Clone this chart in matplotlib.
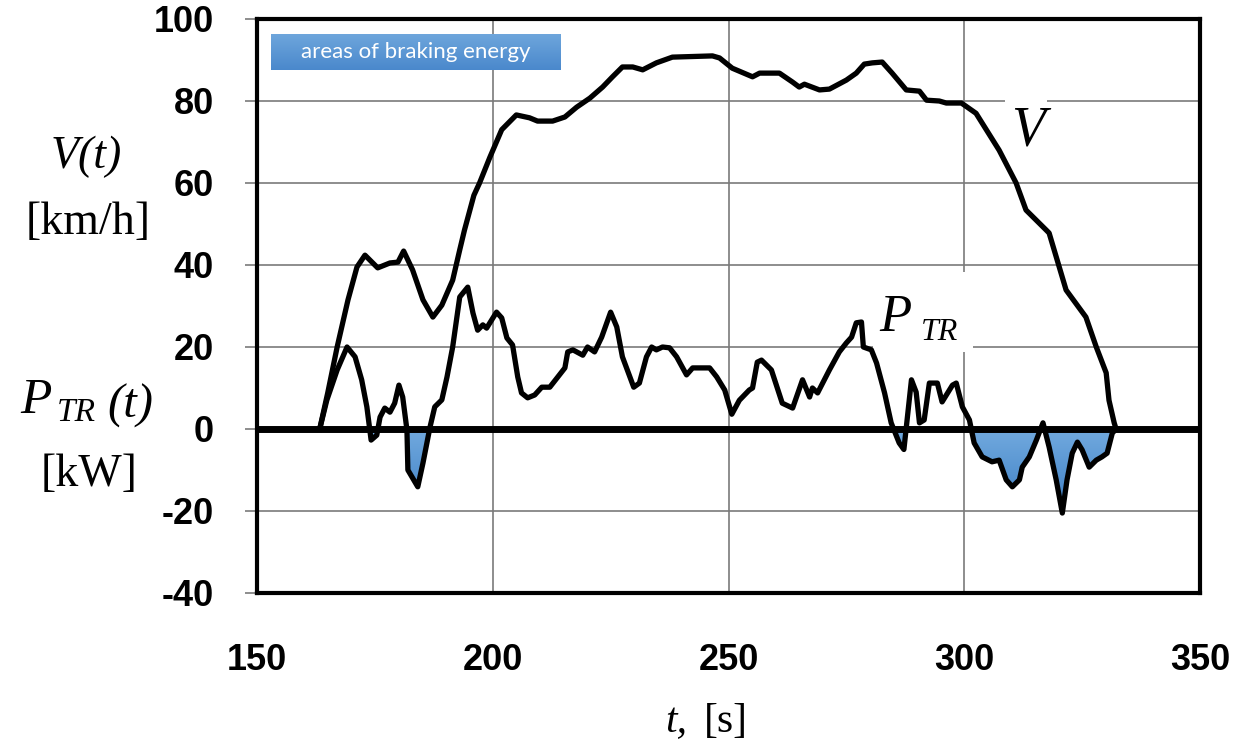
import numpy as np
import matplotlib
matplotlib.use("Agg")
import matplotlib.pyplot as plt
from matplotlib.path import Path
from matplotlib.colors import LinearSegmentedColormap

plt.rcParams['axes.unicode_minus'] = False

# ---- data ----
t_V = [163.3, 165, 167, 169.3, 171.2, 172.9, 175.6, 178.2, 179.9, 181.1, 183, 185.2, 187.3, 189.2,
       191.5, 193, 194, 196, 197.2, 199.4, 201.9, 205, 207.8, 209.5, 212.7, 215.3, 217.8, 220.6,
       223.3, 225.4, 227.5, 229.7, 231.8, 234.7, 238.1, 246.6, 248.1, 250.8, 255.1, 256.6, 260.8,
       263.6, 265, 266.1, 269.3, 271.4, 275, 277.1, 278.8, 280.5, 282.6, 284.7, 287.7, 290.5, 292,
       294.7, 296.2, 299.4, 302.5, 307.4, 311, 313.1, 317.4, 318, 321.6, 325.8, 328, 330.1, 330.7,
       331.8, 332.2]
V = [0, 8.8, 20, 31.5, 39.5, 42.4, 39.3, 40.5, 40.7, 43.4, 38.8, 31.5, 27.3, 30.2,
     36.3, 43.7, 48.5, 57, 60, 66.3, 73, 76.6, 75.9, 75.1, 75.1, 76.1, 78.5, 80.7,
     83.4, 85.9, 88.3, 88.3, 87.6, 89.3, 90.7, 91, 90.5, 88, 85.9, 86.8, 86.8,
     84.6, 83.4, 84.1, 82.7, 82.9, 85.1, 86.8, 89, 89.3, 89.5, 86.8, 82.7, 82.4, 80.2,
     80, 79.5, 79.5, 77, 68, 60, 53.4, 48.5, 47.8, 33.9, 27.3, 20, 13.7, 7,
     1.5, 0]

t_P = [163.3, 164.8, 167, 169.1, 170.8, 172.2, 173.3, 174.2, 175.4, 176.1, 177.1, 178.2, 179.2,
       180.1, 180.9, 181.8, 182, 184.1, 185.2, 186.7, 187.7, 189.2, 190.3, 191.5, 193, 194.7,
       195.8, 196.8, 197.9, 198.7, 200.8, 201.9, 203, 204.2, 205.3, 206.1, 207.4, 208.9, 210.4,
       212.1, 213.6, 215.3, 215.9, 217, 219.1, 220.1, 221.6, 223.1, 225, 226.3, 227.5, 229.9,
       231.1, 232.6, 233.7, 234.7, 236, 237.5, 239, 241.1, 242.4, 246, 247.5, 249.2, 250.7,
       252.3, 254.4, 255.1, 256.1, 257, 259.1, 261.4, 263.6, 265.7, 267.2, 267.8, 268.9, 271.4,
       273.5, 275, 276.1, 277.1, 278.2, 278.6, 280.3, 281.4, 283.1, 284.5, 286.2, 287.2, 288.8,
       289.8, 290.5, 291.5, 292.6, 294.3, 295.3, 297.5, 298.3, 299.6, 301.1, 302.1, 303.8,
       305.9, 307.4, 308.9, 310.2, 311.7, 312.3, 313.8, 315.3, 316.7, 318, 319.5, 320.8, 321.8,
       322.9, 324, 325, 326.5, 328, 329.2, 330.3, 331.4, 332.2]
P = [0, 7, 14.4, 20, 17.6, 12, 5.4, -2.7, -1.5, 2.9, 5.1, 4.1, 6.3,
     10.7, 7.8, -0.2, -10, -14.1, -8.3, 0.5, 5.4, 7.1, 12.7, 20, 32.2, 34.6,
     28.3, 24.1, 25.4, 24.6, 28.5, 27.1, 22.2, 20.5, 12.7, 8.8, 7.6, 8.3, 10.2,
     10.2, 12.4, 14.9, 18.8, 19.3, 18, 20, 18.8, 22.4, 28.5, 24.9, 17.6, 10.2,
     11.2, 17.6, 20, 19.3, 20, 19.8, 17.6, 13.2, 14.9, 14.9, 12.7, 9.5, 3.6,
     7, 9.5, 10, 16.3, 16.8, 14.4, 6.3, 5.1, 12, 7.8, 10, 8.8, 14.4,
     18.8, 21, 22.4, 25.9, 26.1, 20, 19.3, 16.1, 8.8, 1.5, -3.4, -5, 12,
     9, 1.5, 2.2, 11.2, 11.2, 6.6, 10.7, 11.2, 5.4, 2.2, -3.4, -6.8,
     -8, -7.6, -12.4, -14.1, -12.4, -9.3, -6.8, -2.7, 1.5, -4.4, -12.4, -20.5, -12.4,
     -5.9, -3.2, -5.1, -9.3, -7.6, -6.8, -5.9, -1, 0]

x_ticks = [150, 200, 250, 300, 350]
y_ticks = [-40, -20, 0, 20, 40, 60, 80, 100]

W, H = 1242, 744
fig = plt.figure(figsize=(W / 100, H / 100), dpi=100)

def fx(px):
    return px / W

def fy(py):
    return 1 - py / H

ax = fig.add_axes([fx(257), fy(593), fx(1200) - fx(257), fy(19) - fy(593)])
ax.set_xlim(150, 350)
ax.set_ylim(-40, 100)
ax.set_xticks(x_ticks)
ax.set_yticks(y_ticks)
ax.set_axisbelow(True)
ax.grid(True, color='#7a7a7a', linewidth=1.2)
for s in ax.spines.values():
    s.set_linewidth(3.0)
    s.set_color('black')

ax.tick_params(axis='y', length=9, width=1.2, color='#7a7a7a', pad=22, direction='out')
ax.tick_params(axis='x', length=0, pad=36)
for lab in ax.get_xticklabels() + ax.get_yticklabels():
    lab.set_fontfamily('Liberation Sans')
    lab.set_fontweight('bold')
    lab.set_fontsize(26)

tP = np.array(t_P)
Pa = np.array(P)

# braking energy areas (gradient fill clipped to negative-power regions)
poly = ax.fill_between(tP, Pa, 0, where=Pa < 0, interpolate=True, color='none', linewidth=0)
paths = poly.get_paths()
cmap = LinearSegmentedColormap.from_list('bl', ['#3a7cc2', '#72aadf'])
grad = np.linspace(0, 1, 256).reshape(-1, 1)
im = ax.imshow(grad, extent=[150, 350, -22, 0], origin='lower', aspect='auto', cmap=cmap, zorder=2)
cp = Path.make_compound_path(*paths)
im.set_clip_path(cp, ax.transData)
ax.set_xlim(150, 350)
ax.set_ylim(-40, 100)

ax.axhline(0, color='black', linewidth=5, zorder=5)
ax.plot(t_V, V, color='black', linewidth=3.8, zorder=6, solid_joinstyle='round')
ax.plot(t_P, P, color='black', linewidth=3.8, zorder=6, solid_joinstyle='round')

# curve labels on white boxes (below the curves)
ax.add_artist(plt.Rectangle((fx(1005), fy(160)), fx(1047) - fx(1005), fy(88) - fy(160),
                            transform=fig.transFigure, facecolor='white', edgecolor='none',
                            zorder=3, clip_on=False))
ax.text(fx(1028), fy(132), 'V', transform=fig.transFigure, fontsize=40, fontstyle='italic',
        family='Liberation Serif', ha='center', va='center', zorder=7)

ax.add_artist(plt.Rectangle((fx(873), fy(352)), fx(973) - fx(873), fy(272) - fy(352),
                            transform=fig.transFigure, facecolor='white', edgecolor='none',
                            zorder=3, clip_on=False))
ax.text(fx(895), fy(318), 'P', transform=fig.transFigure, fontsize=38, fontstyle='italic',
        family='Liberation Serif', ha='center', va='center', zorder=7)
ax.text(fx(940), fy(333), 'TR', transform=fig.transFigure, fontsize=23, fontstyle='italic',
        family='Liberation Serif', ha='center', va='center', zorder=7)

# legend-like box
lax = fig.add_axes([fx(271), fy(70), fx(561) - fx(271), fy(34) - fy(70)])
lax.imshow(grad, extent=[0, 1, 0, 1], origin='lower', aspect='auto',
           cmap=LinearSegmentedColormap.from_list('lg', ['#4a88cc', '#6ea6dc']))
lax.set_xlim(0, 1)
lax.set_ylim(0, 1)
lax.axis('off')
lax.text(0.5, 0.5, 'areas of braking energy', color='white', fontsize=16, family='Lato',
         ha='center', va='center')

# axis labels
serif = 'Liberation Serif'
fig.text(fx(86), fy(157), 'V(t)', fontsize=33, fontstyle='italic', family=serif, ha='center', va='center')
fig.text(fx(88), fy(223), '[km/h]', fontsize=33, family=serif, ha='center', va='center')
fig.text(fx(36), fy(401), 'P', fontsize=37, fontstyle='italic', family=serif, ha='center', va='center')
fig.text(fx(76), fy(413), 'TR', fontsize=24, fontstyle='italic', family=serif, ha='center', va='center')
fig.text(fx(130), fy(406), '(t)', fontsize=35, fontstyle='italic', family=serif, ha='center', va='center')
fig.text(fx(89), fy(475), '[kW]', fontsize=33, family=serif, ha='center', va='center')
fig.text(fx(676), fy(722), 't,', fontsize=30, fontstyle='italic', family=serif, ha='center', va='center')
fig.text(fx(726), fy(722), '[s]', fontsize=30, family=serif, ha='center', va='center')

fig.savefig('out.png', dpi=100)
